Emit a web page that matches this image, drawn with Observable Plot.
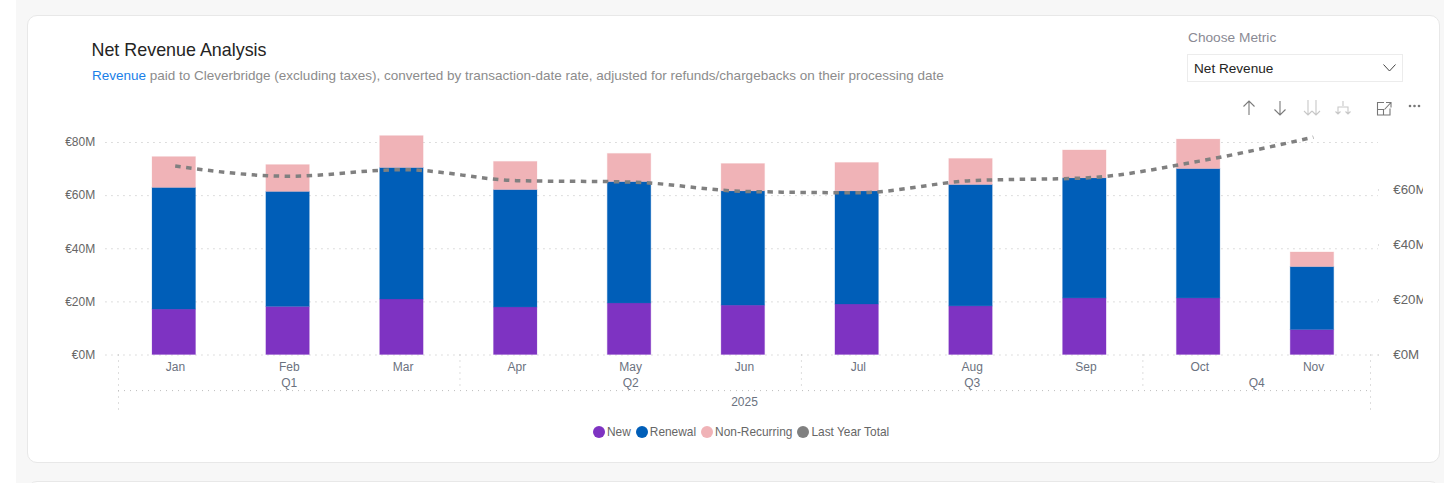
<!DOCTYPE html>
<html>
<head>
<meta charset="utf-8">
<script src="https://cdn.jsdelivr.net/npm/d3@7"></script>
<script src="https://cdn.jsdelivr.net/npm/@observablehq/plot@0.6"></script>
<style>
html,body{margin:0;padding:0;background:#fff;width:1444px;height:483px;overflow:hidden;font-family:"Liberation Sans",Arial,sans-serif}
.abs{position:absolute}
#bg{left:16px;top:0;width:1428px;height:483px;background:#f7f7f7}
.card{background:#fff;border:1px solid #e8e8e8;border-radius:10px;box-sizing:border-box}
#chart{left:0;top:0}
#title{left:91.5px;top:40px;font-size:17.9px;line-height:20px;color:#252423;white-space:nowrap}
#sub{left:92px;top:68px;font-size:13.5px;line-height:16px;color:#8c8c8c;white-space:nowrap}
#sub span{color:#1a7fe8}
#cm{left:1188px;top:30px;font-size:13.7px;line-height:16px;color:#8a8a94}
#dd{left:1187px;top:54px;width:216px;height:28px;border:1px solid #ececec;box-sizing:border-box;font-size:13.6px;line-height:27px;padding-left:6px;color:#252423}
#legend{left:593px;top:424px;display:flex;gap:5px;font-size:11.9px;line-height:16px;color:#666;white-space:nowrap}
#legend div{display:flex;align-items:center;gap:1px}
#legend i{display:inline-block;width:12px;height:12px;border-radius:50%;margin-right:1px}
#cover{left:1423px;top:175px;width:16px;height:135px;background:#fff}
svg.ic{position:absolute;fill:none}
</style>
</head>
<body>
<div id="bg" class="abs"></div>
<div class="abs card" style="left:27px;top:15px;width:1413px;height:448px"></div>
<div class="abs card" style="left:27px;top:481px;width:1413px;height:40px"></div>
<div id="chart" class="abs"></div>
<div id="cover" class="abs"></div>
<div id="title" class="abs">Net Revenue Analysis</div>
<div id="sub" class="abs"><span>Revenue</span> paid to Cleverbridge (excluding taxes), converted by transaction-date rate, adjusted for refunds/chargebacks on their processing date</div>
<div id="cm" class="abs">Choose Metric</div>
<div id="dd" class="abs">Net Revenue</div>
<svg class="ic" style="left:1382px;top:62px" width="16" height="12" stroke="#444" stroke-width="1"><path d="M1.5 2.5 L7.5 9 L13.5 2.5"/></svg>
<svg class="ic" style="left:1240px;top:98px" width="190" height="20" stroke-width="1.1">
  <g stroke="#7a7a7a"><path d="M9 17V3M3.5 8.5L9 3l5.500 5.500"/><path d="M40 3V17M34.5 11.5L40 17l5.500-5.500"/></g>
  <g stroke="#c8c8c8"><path d="M68 2V17M64 13l4 4 4-4M76 2V17M72 13l4 4 4-4"/><path d="M103 3V8M98 16V9h10v7M95.500 13.500l2.500 2.500 2.500-2.500M105.500 13.500l2.500 2.500 2.500-2.500"/></g>
  <g stroke="#777"><path d="M144 4.500h-6.500V17H150V10.500M144.500 11.500L150.500 5M146 4.500h5v5M138 11.500h5.500V17"/></g>
</svg>
<svg class="ic" style="left:1408px;top:103px" width="14" height="6"><g fill="#777"><circle cx="2" cy="3" r="1.300"/><circle cx="6.500" cy="3" r="1.300"/><circle cx="11" cy="3" r="1.300"/></g></svg>
<div id="legend" class="abs"></div>
<script>
const months = ["Jan","Feb","Mar","Apr","May","Jun","Jul","Aug","Sep","Oct","Nov"];
const newRevenue = [17.1,18.1,20.9,17.9,19.4,18.6,19.0,18.3,21.3,21.3,9.4];
const renewal = [45.8,43.3,49.5,44.2,45.7,43.0,42.6,45.7,45.2,48.7,23.7];
const nonRecurring = [11.6,10.1,12.0,10.6,10.6,10.3,10.7,9.8,10.5,11.1,5.5];
const lastYearTotal = [68.7,65.0,67.4,63.4,62.9,59.5,59.0,63.4,64.4,70.5,79.2];
const quarters = ["Q1","Q2","Q3","Q4"];
const quarterEdges = [0,3,6,9,11];
const leftTicks = [0,20,40,60,80];
const rightTicks = [0,20,40,60];
const seriesNames = ["New","Renewal","Non-Recurring","Last Year Total"];
const seriesColors = ["#7e33c2","#005eb8","#f0b3b7","#808080"];
const rightScale = 2.75/2.656;   // right axis runs on its own, slightly stretched scale

const stack = [];
seriesNames.slice(0,3).forEach((s,k)=>{
  const vals=[newRevenue,renewal,nonRecurring][k];
  months.forEach((m,i)=>stack.push({month:m,i,series:s,value:vals[i]}));
});
const fmt = d=>`€${d}M`;
const txt = {fontFamily:"'Liberation Sans',Arial,sans-serif",fontSize:12};
const grid = {stroke:"#bdbdbd",strokeWidth:1,strokeDasharray:"1 5"};
const axisRows = {month:-4.7, quarter:-10.6, row1:-13.4, year:-17.6, row2:-20.9};

const chart = Plot.plot({
  width:1444,height:483,margin:0,
  style:{background:"transparent",overflow:"visible"},
  x:{type:"linear",domain:[0,11],range:[118,1370],axis:null},
  y:{domain:[0,80],range:[354.5,142],axis:null},
  color:{domain:seriesNames,range:seriesColors},
  marks:[
    Plot.ruleY(leftTicks,{x1:-0.11,x2:11.07,...grid}),
    Plot.ruleX(quarterEdges.filter(d=>d>0&&d<11),{x:d=>d,y1:0,y2:axisRows.row1,...grid}),
    Plot.ruleX([0,11],{x:d=>d,y1:0,y2:axisRows.row2,...grid}),
    Plot.ruleY([axisRows.row1],{x1:0,x2:11,...grid}),
    Plot.rectY(stack,{x1:d=>d.i+0.299,x2:d=>d.i+0.681,y:"value",fill:"series",stroke:"series",strokeOpacity:0.25,strokeWidth:1}),
    Plot.line(lastYearTotal,{x:(d,i)=>i+0.498,y:d=>d*rightScale,stroke:seriesColors[3],strokeWidth:3.5,strokeDasharray:"5.5 5.5",strokeLinecap:"butt",strokeLinejoin:"miter",curve:"monotone-x"}),
    Plot.text(leftTicks,{x:-0.205,y:d=>d,text:fmt,textAnchor:"end",fill:"#666",...txt}),
    Plot.text(rightTicks,{x:11.2,y:d=>d*rightScale,text:fmt,textAnchor:"start",fill:"#666",...txt,fontSize:13.3}),
    Plot.ruleY(rightTicks,{y:d=>d*rightScale,x1:11.07,x2:11.12,...grid}),
    Plot.text(months,{x:(d,i)=>i+0.5,y:axisRows.month,text:d=>d,fill:"#6b7280",...txt}),
    Plot.text(quarters,{x:(d,i)=>(quarterEdges[i]+quarterEdges[i+1])/2,y:axisRows.quarter,text:d=>d,fill:"#6b7280",...txt}),
    Plot.text(["2025"],{x:5.5,y:axisRows.year,text:d=>d,fill:"#6b7280",...txt})
  ]
});
document.getElementById("chart").append(chart);
const lg=document.getElementById("legend");
seriesNames.forEach((s,i)=>{
  const d=document.createElement("div");
  const c=document.createElement("i");c.style.background=seriesColors[i];
  d.append(c,document.createTextNode(s));lg.append(d);
});
</script>
</body>
</html>
